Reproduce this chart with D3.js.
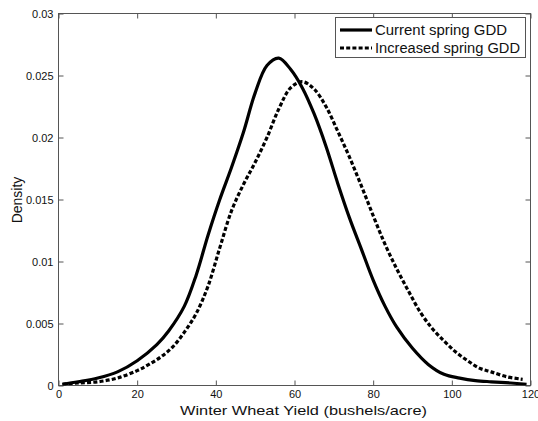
<!DOCTYPE html>
<html><head><meta charset="utf-8">
<script src="https://cdn.jsdelivr.net/npm/d3@7"></script>
<style>body{margin:0;background:#fff}svg{display:block}text{font-family:"Liberation Sans",Arial,sans-serif}</style>
</head><body>
<script>
const seriesNames = ["Current spring GDD", "Increased spring GDD"];
const currentX = [1,5,10,15,20,25,28,32,35,38,41,44,47,50,53,56,59,62,65,68,71,74,77,80,83,86,90,94,98,102,106,110,115,119];
const currentY = [0.0001,0.0003,0.0006,0.0011,0.0020,0.0033,0.0044,0.0064,0.0089,0.0121,0.0150,0.0176,0.0204,0.0236,0.0258,0.0264,0.0255,0.0240,0.0219,0.0193,0.0163,0.0135,0.0110,0.0085,0.0064,0.0047,0.0030,0.0017,0.0009,0.0006,0.0004,0.0003,0.0002,0.0001];
const increasedX = [1,5,10,15,20,23,26,29,32,35,38,41,44,47,50,53,56,59,62,65,68,71,74,77,80,83,86,89,92,95,98,101,104,107,110,114,118];
const increasedY = [0.0001,0.0002,0.0003,0.0006,0.0012,0.0017,0.0023,0.0031,0.0043,0.0058,0.0080,0.0111,0.0141,0.0162,0.0180,0.0200,0.0223,0.0240,0.0245,0.0239,0.0225,0.0205,0.0184,0.0161,0.0137,0.0114,0.0094,0.0076,0.0059,0.0046,0.0036,0.0027,0.0020,0.0014,0.0011,0.0007,0.0005];
const xTicks = [0,20,40,60,80,100,120];
const yTicks = [0,0.005,0.01,0.015,0.02,0.025,0.03];
const yTickLabels = ["0","0.005","0.01","0.015","0.02","0.025","0.03"];

const W = 538, H = 421;
const L = 58.5, R = 530.5, T = 13.5, B = 385.5;
const svg = d3.select("body").append("svg").attr("width", W).attr("height", H);
const x = d3.scaleLinear().domain([0,120]).range([L,R]);
const y = d3.scaleLinear().domain([0,0.03]).range([B,T]);
const axisColor = "#555";

svg.append("rect").attr("x",L).attr("y",T).attr("width",R-L).attr("height",B-T)
  .attr("fill","none").attr("stroke",axisColor).attr("stroke-width",1);

const tl = 5;
const gx = svg.append("g").attr("transform",`translate(0,${B})`)
  .call(d3.axisBottom(x).tickValues(xTicks).tickFormat(d3.format("d")).tickSizeInner(-tl).tickSizeOuter(0).tickPadding(5));
const gxt = svg.append("g").attr("transform",`translate(0,${T})`)
  .call(d3.axisTop(x).tickValues(xTicks).tickFormat("").tickSizeInner(-tl).tickSizeOuter(0));
const gy = svg.append("g").attr("transform",`translate(${L},0)`)
  .call(d3.axisLeft(y).tickValues(yTicks).tickFormat((d,i)=>yTickLabels[i]).tickSizeInner(-tl).tickSizeOuter(0).tickPadding(5));
const gyr = svg.append("g").attr("transform",`translate(${R},0)`)
  .call(d3.axisRight(y).tickValues(yTicks).tickFormat("").tickSizeInner(-tl).tickSizeOuter(0));
[gx,gxt,gy,gyr].forEach(g=>{
  g.select(".domain").remove();
  g.selectAll("line").attr("stroke",axisColor);
  g.selectAll("text").attr("fill","#111").style("font-size","11px").style("font-family","'Liberation Sans',Arial,sans-serif");
});
gx.selectAll("text").attr("dy","0.71em");

svg.append("defs").append("clipPath").attr("id","clip").append("rect")
  .attr("x",L).attr("y",T).attr("width",R-L).attr("height",B-T);

const line = d3.line().x(d=>x(d[0])).y(d=>y(d[1])).curve(d3.curveCatmullRom.alpha(0.5));
const curData = currentX.map((v,i)=>[v,currentY[i]]);
const incData = increasedX.map((v,i)=>[v,increasedY[i]]);
const pg = svg.append("g").attr("clip-path","url(#clip)");
pg.append("path").datum(curData).attr("d",line).attr("fill","none").attr("stroke","#000").attr("stroke-width",3.2).attr("stroke-linejoin","round");
pg.append("path").datum(incData).attr("d",line).attr("fill","none").attr("stroke","#000").attr("stroke-width",3.2).attr("stroke-dasharray","4,2.2");

// Legend
const lg = svg.append("g");
lg.append("rect").attr("x",335.5).attr("y",17.5).attr("width",190).attr("height",40)
  .attr("fill","#fff").attr("stroke",axisColor).attr("stroke-width",1);
const rows = [{name:seriesNames[0],dash:null,yy:30},{name:seriesNames[1],dash:"4,2.2",yy:48}];
rows.forEach(r=>{
  const ln = lg.append("line").attr("x1",340).attr("x2",372).attr("y1",r.yy).attr("y2",r.yy)
    .attr("stroke","#000").attr("stroke-width",3.2);
  if(r.dash) ln.attr("stroke-dasharray",r.dash);
  lg.append("text").attr("x",375).attr("y",r.yy+5).style("font-size","14px").attr("fill","#111")
    .attr("textLength", r.dash ? 145 : 132).attr("lengthAdjust","spacingAndGlyphs").text(r.name);
});

// Axis labels
svg.append("text").attr("x",180).attr("y",415).style("font-size","13.5px").attr("fill","#111")
  .attr("textLength",247).attr("lengthAdjust","spacingAndGlyphs")
  .text("Winter Wheat Yield (bushels/acre)");
svg.append("text").attr("transform","translate(21.5,200) rotate(-90)").attr("text-anchor","middle").style("font-size","14px").attr("fill","#111")
  .text("Density");
</script>
</body></html>
